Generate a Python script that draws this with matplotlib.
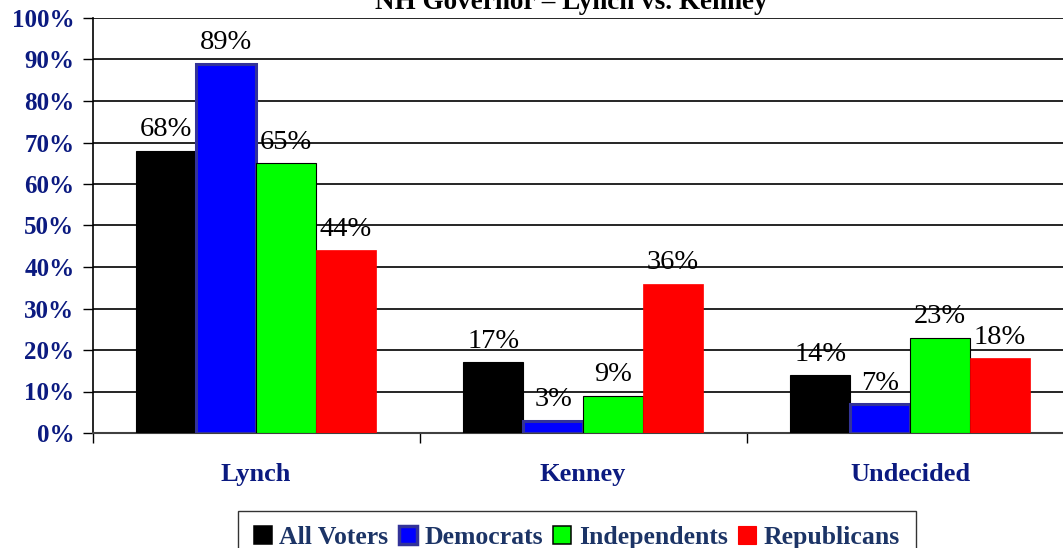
import matplotlib
matplotlib.use("Agg")
import matplotlib.pyplot as plt
import numpy as np
from matplotlib.patches import Patch

categories = ["Lynch", "Kenney", "Undecided"]
series_names = ["All Voters", "Democrats", "Independents", "Republicans"]
all_voters = [68, 17, 14]
democrats = [89, 3, 7]
independents = [65, 9, 23]
republicans = [44, 36, 18]
series_values = [all_voters, democrats, independents, republicans]
ytick_labels = ["0%", "10%", "20%", "30%", "40%", "50%", "60%", "70%", "80%", "90%", "100%"]
title = "NH Governor \u2013 Lynch vs. Kenney"

face_colors = ["#000000", "#0000ff", "#00ff00", "#ff0000"]
edge_colors = ["#000000", "#333399", "#000000", "#ff0000"]
edge_widths = [0.8, 2.2, 0.8, 0.5]

plt.rcParams['font.family'] = ['Liberation Serif', 'DejaVu Serif']

W, H = 1063, 548
fig = plt.figure(figsize=(W / 100, H / 100), dpi=100)
left, right = 92.5, 1073.5
top, bottom = 18, 433
ax = fig.add_axes([left / W, 1 - bottom / H, (right - left) / W, (bottom - top) / H])

x = np.arange(len(categories))
bw = 0.183
offsets = (np.arange(4) - 1.5) * bw
for i, vals in enumerate(series_values):
    bars = ax.bar(x + offsets[i], vals, width=bw, color=face_colors[i],
                  edgecolor=edge_colors[i], linewidth=edge_widths[i], zorder=3)
    for b, v in zip(bars, vals):
        ax.annotate(f"{v}%", (b.get_x() + b.get_width() / 2, v),
                    xytext=(0, 6), textcoords="offset points",
                    ha="center", va="bottom", fontsize=20.5, color="black", zorder=4)

ax.set_xlim(-0.5, 2.5)
ax.set_ylim(0, 100)
ax.set_yticks(np.arange(0, 101, 10))
ax.set_yticklabels(ytick_labels, fontsize=18, fontweight="bold", color="#0b1a80")
ax.yaxis.grid(True, color="black", linewidth=1.2, zorder=0)
ax.set_axisbelow(True)
ax.set_xticks([-0.5, 0.5, 1.5, 2.5])
ax.set_xticklabels([])
ax.tick_params(axis="x", length=7, width=1, color="black", direction="out")
ax.tick_params(axis="y", length=7, width=1, color="black", direction="out", pad=6)
for c, name in zip(x, categories):
    ax.text(c, -10, name, ha="center", va="center", fontsize=19,
            fontweight="bold", color="#0b1a80", transform=ax.transData, clip_on=False)
ax.spines["top"].set_visible(False)
ax.spines["right"].set_visible(False)
ax.spines["left"].set_color("black")
ax.spines["left"].set_linewidth(1.2)
ax.spines["bottom"].set_color("#404040")
ax.spines["bottom"].set_linewidth(1.5)

fig.text(571 / W, 1 - 9 / H, title, ha="center", va="baseline",
         fontsize=19.5, fontweight="bold", color="black")

handles = [Patch(facecolor=face_colors[i], edgecolor=edge_colors[i],
                 linewidth=edge_widths[i] + 0.3) for i in range(4)]
leg = fig.legend(handles, series_names, loc="upper center",
                 bbox_to_anchor=(577 / W, 1 - 511 / H), ncol=4, frameon=True,
                 fancybox=False, edgecolor="black", handlelength=0.7,
                 handleheight=0.7, handletextpad=0.3, columnspacing=0.4,
                 borderpad=0.6, borderaxespad=0.0,
                 prop={"size": 18.5, "weight": "bold"})
leg.get_frame().set_linewidth(1.0)
for t in leg.get_texts():
    t.set_color("#1c3466")

fig.savefig("out.png", dpi=100)
